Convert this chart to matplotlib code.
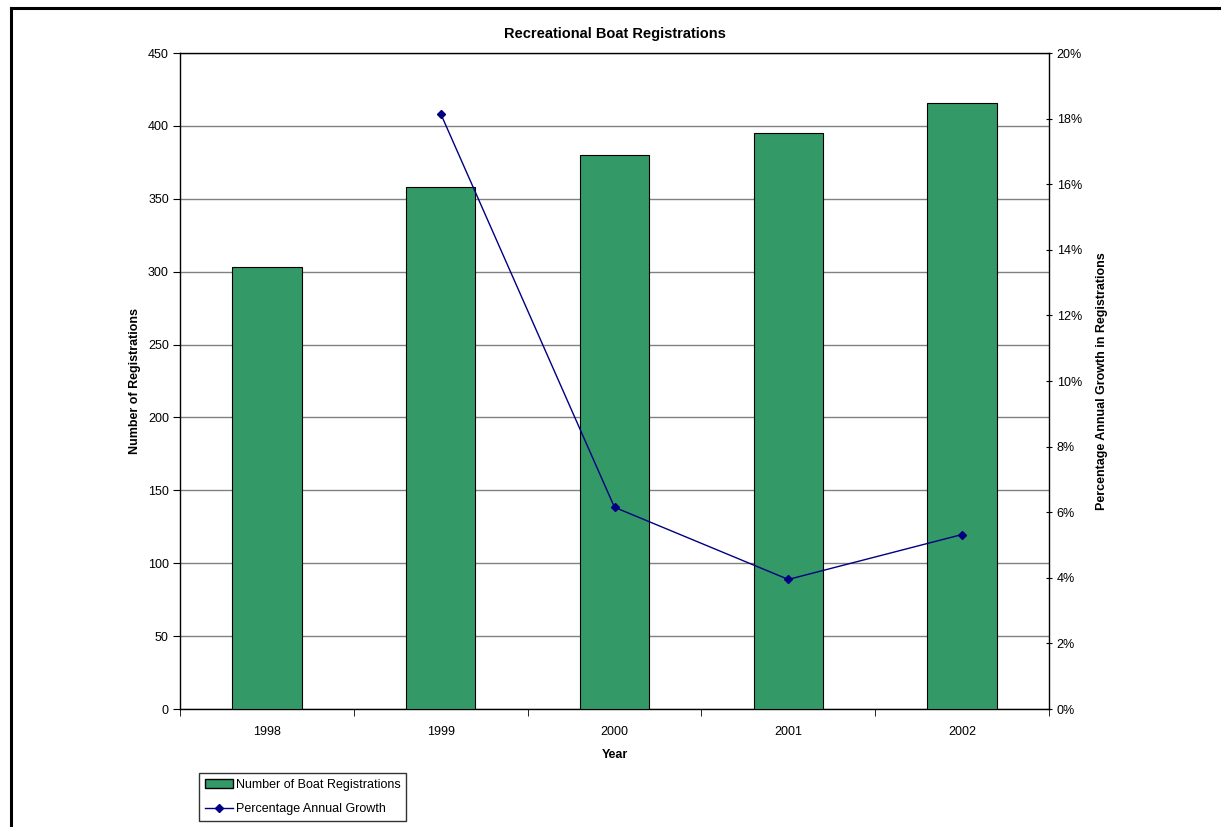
import matplotlib.pyplot as plt
import matplotlib.lines as mlines
import matplotlib.patches as mpatches
from matplotlib.ticker import FuncFormatter, MultipleLocator, FixedLocator

plt.rcParams['font.family'] = ['Liberation Sans', 'DejaVu Sans']

# data
years = ['1998', '1999', '2000', '2001', '2002']
registrations = [303, 358, 380, 395, 416]
growth_years = ['1999', '2000', '2001', '2002']
growth_pct = [18.15, 6.15, 3.95, 5.32]

bar_color = '#339966'
line_color = '#000080'

fig = plt.figure(figsize=(12.21, 8.27), dpi=100)
ax = fig.add_axes([180 / 1221, 1 - 709 / 827, 869 / 1221, 656 / 827])

x = list(range(len(years)))
ax.bar(x, registrations, width=0.4, color=bar_color, edgecolor='black', lw=0.8, zorder=3)

ax.set_xlim(-0.5, len(years) - 0.5)
ax.set_ylim(0, 450)
ax.yaxis.set_major_locator(MultipleLocator(50))
ax.grid(axis='y', color='#808080', lw=1.0, zorder=0)

ax.set_xticks(x)
ax.set_xticklabels(years)
ax.tick_params(axis='x', length=0, pad=12, labelsize=9)
# tick marks between categories
ax.xaxis.set_minor_locator(FixedLocator([i + 0.5 for i in range(-1, len(years))]))
ax.tick_params(axis='x', which='minor', length=5, direction='out', color='black')
ax.tick_params(axis='y', length=5, direction='out', labelsize=9, pad=3)

for side in ['top', 'right']:
    ax.spines[side].set_visible(False)
ax.spines['left'].set_linewidth(1.0)
ax.spines['bottom'].set_linewidth(1.0)

ax.set_xlabel('Year', fontsize=9, fontweight='bold', labelpad=8)
ax.set_ylabel('Number of Registrations', fontsize=9, fontweight='bold', labelpad=5)
ax.set_title('Recreational Boat Registrations', fontsize=10.5, fontweight='bold', pad=11)

ax2 = ax.twinx()
gx = [years.index(y) for y in growth_years]
ax2.plot(gx, growth_pct, color=line_color, lw=1.0, marker='D', ms=4, zorder=4)
ax2.set_ylim(0, 20)
ax2.yaxis.set_major_locator(MultipleLocator(2))
ax2.yaxis.set_major_formatter(FuncFormatter(lambda v, p: '%d%%' % v))
ax2.tick_params(axis='y', length=5, direction='inout', labelsize=9, pad=3)
for side in ['top', 'left', 'bottom']:
    ax2.spines[side].set_visible(False)
ax2.spines['right'].set_linewidth(1.0)
ax2.set_ylabel('Percentage Annual Growth in Registrations', fontsize=9, fontweight='bold', labelpad=10)

# top line of plot area
ax.axhline(450, color='black', lw=1.0, zorder=5, clip_on=False)

h1 = mpatches.Patch(facecolor=bar_color, edgecolor='black', lw=1.0)
h2 = mlines.Line2D([], [], color=line_color, lw=1.0, marker='D', ms=4)
leg = fig.legend([h1, h2], ['Number of Boat Registrations', 'Percentage Annual Growth'],
                 loc='lower left', bbox_to_anchor=(199 / 1221, 6 / 827),
                 frameon=True, fancybox=False, edgecolor='black', fontsize=9,
                 handlelength=2.3, handletextpad=0.2, borderpad=0.45, labelspacing=1.0,
                 borderaxespad=0)
leg.get_frame().set_linewidth(1.0)

# outer chart frame (left and top edges visible)
fig.add_artist(mlines.Line2D([11 / 1221, 11 / 1221], [0, 1 - 8 / 827], color='black', lw=2.2))
fig.add_artist(mlines.Line2D([11 / 1221, 1], [1 - 8 / 827, 1 - 8 / 827], color='black', lw=2.2))

fig.savefig('out.png', dpi=100)
